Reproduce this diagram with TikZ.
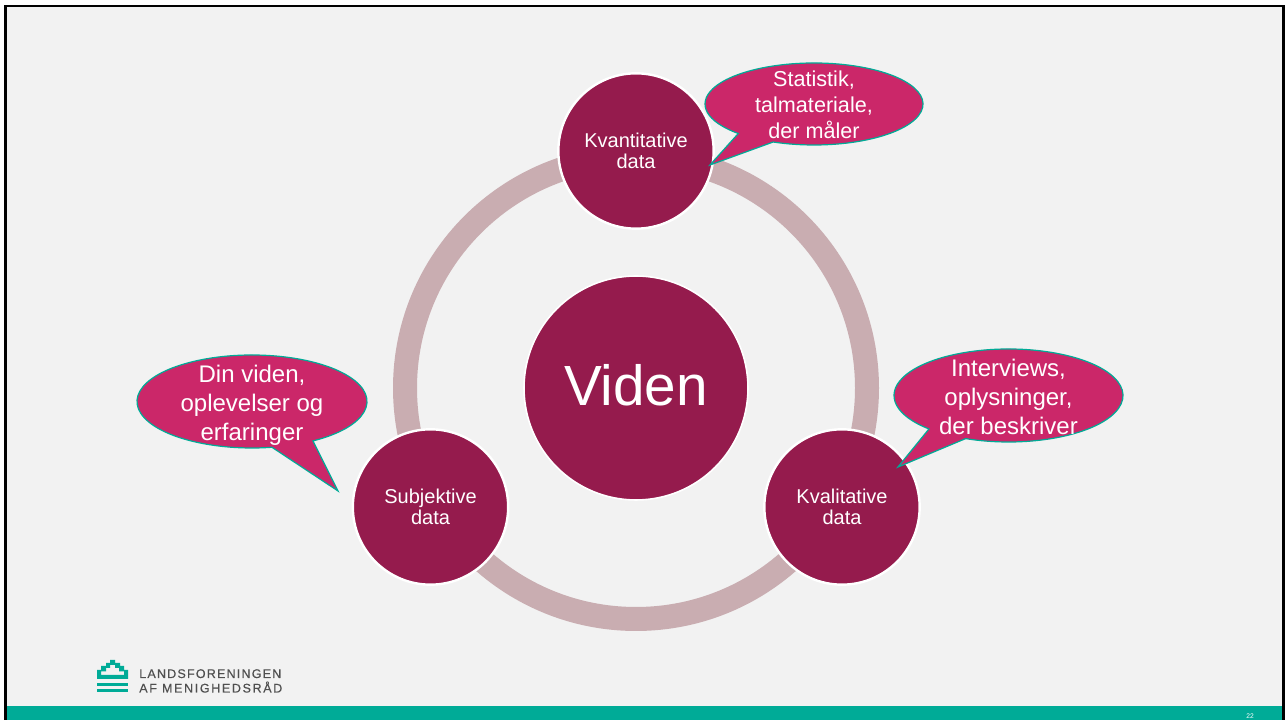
\documentclass[tikz,border=0pt]{standalone}
\usepackage{fontspec}
\usetikzlibrary{calc}
\setmainfont{Liberation Sans}
\newfontfamily\logofonta[LetterSpace=9.5,FakeBold=0.4]{Liberation Sans}
\newfontfamily\logofontb[LetterSpace=13,FakeBold=0.4]{Liberation Sans}
\definecolor{slidebg}{HTML}{F2F2F2}
\definecolor{ringcol}{HTML}{C9ADB1}
\definecolor{darkrose}{HTML}{951B4D}
\definecolor{bubblecol}{HTML}{CB2769}
\definecolor{tealcol}{HTML}{00AB97}
\definecolor{logotext}{HTML}{4F4F4F}
\begin{document}
\begin{tikzpicture}[x=0.75pt,y=0.75pt,
	smallcirc/.style = {circle, fill=darkrose, draw=white, line width=1.8pt, minimum size=116.5pt, inner sep=0pt, text=white, align=center, font=\fontsize{15}{15.75}\selectfont},
	bubble/.style = {fill=bubblecol, draw=tealcol, line width=0.9pt, line join=miter},
	bubbletext/.style = {text=white, align=center, inner sep=0pt}]
	\useasboundingbox (0,0) rectangle (1285,720);
	\fill[white] (0,0) rectangle (1285,720);
	\draw[fill=slidebg, line width=1.9pt] (5.5,-5) rectangle (1283.5,714);
	\fill[tealcol] (7,0) rectangle (1282,14);
	\draw[ringcol, line width=18pt] (636,332) circle (231);

	\node[circle, fill=darkrose, draw=white, line width=1.2pt, minimum size=168pt, inner sep=0pt, text=white, font=\fontsize{42.5}{46}\selectfont] (viden) at (636,332) {};
	\node[text=white, inner sep=0pt, font=\fontsize{42.5}{46}\selectfont] (videntxt) at (636,335) {Viden};
	\node[smallcirc] (kvant) at (636,569) {Kvantitative\\data};
	\node[smallcirc] (subj) at (430.5,213) {Subjektive\\data};
	\node[smallcirc] (kval) at (842,213) {Kvalitative\\data};

	\coordinate (statc) at (814,616);
	\coordinate (intc) at (1008.5,324.5);
	\coordinate (dinc) at (252,318.5);
	\draw[bubble] ($(statc)+(248:109 and 41)$) arc[start angle=248, end angle=586, x radius=109, y radius=41] -- (710,555) -- cycle;
	\draw[bubble] ($(intc)+(248:114.5 and 46.5)$) arc[start angle=248, end angle=586, x radius=114.5, y radius=46.5] -- (898,253) -- cycle;
	\draw[bubble] ($(dinc)+(302:115 and 46.5)$) arc[start angle=302, end angle=640, x radius=115, y radius=46.5] -- (338,229) -- cycle;

	\node[bubbletext, font=\fontsize{16.2}{19.6}\selectfont] (stat) at (814,615) {Statistik,\\talmateriale,\\der måler};
	\node[bubbletext, font=\fontsize{18}{21.7}\selectfont] (int) at (1008.5,323) {Interviews,\\oplysninger,\\der beskriver};
	\node[bubbletext, font=\fontsize{18}{21.7}\selectfont] (din) at (252,315) {Din viden,\\oplevelser og\\erfaringer};

	\fill[tealcol, even odd rule] (97,41) -- (97,50) -- (101,50) -- (101,54) -- (106,54) -- (106,57) -- (110,57) -- (110,60) -- (115,60) -- (115,57) -- (120,57) -- (120,54) -- (124,54) -- (124,50) -- (128,50) -- (128,41) -- cycle
		(101,45) -- (101,48.5) -- (106,48.5) -- (106,52) -- (110,52) -- (110,55) -- (115,55) -- (115,52) -- (119,52) -- (119,48.5) -- (124,48.5) -- (124,45) -- cycle;
	\fill[tealcol] (97,34) rectangle (128,37);
	\fill[tealcol] (97,27.5) rectangle (128,31);
	\node[anchor=base west, inner sep=0pt, text=logotext, font=\logofonta\fontsize{9.4}{11}\selectfont] (logoa) at (139,42) {LANDSFORENINGEN};
	\node[anchor=base west, inner sep=0pt, text=logotext, font=\logofontb\fontsize{9.4}{11}\selectfont] (logob) at (139,27.5) {AF MENIGHEDSRÅD};
	\node[inner sep=0pt, text=white, font=\fontsize{5}{6}\selectfont] (pagenum) at (1250,4) {22};
\end{tikzpicture}
\end{document}
